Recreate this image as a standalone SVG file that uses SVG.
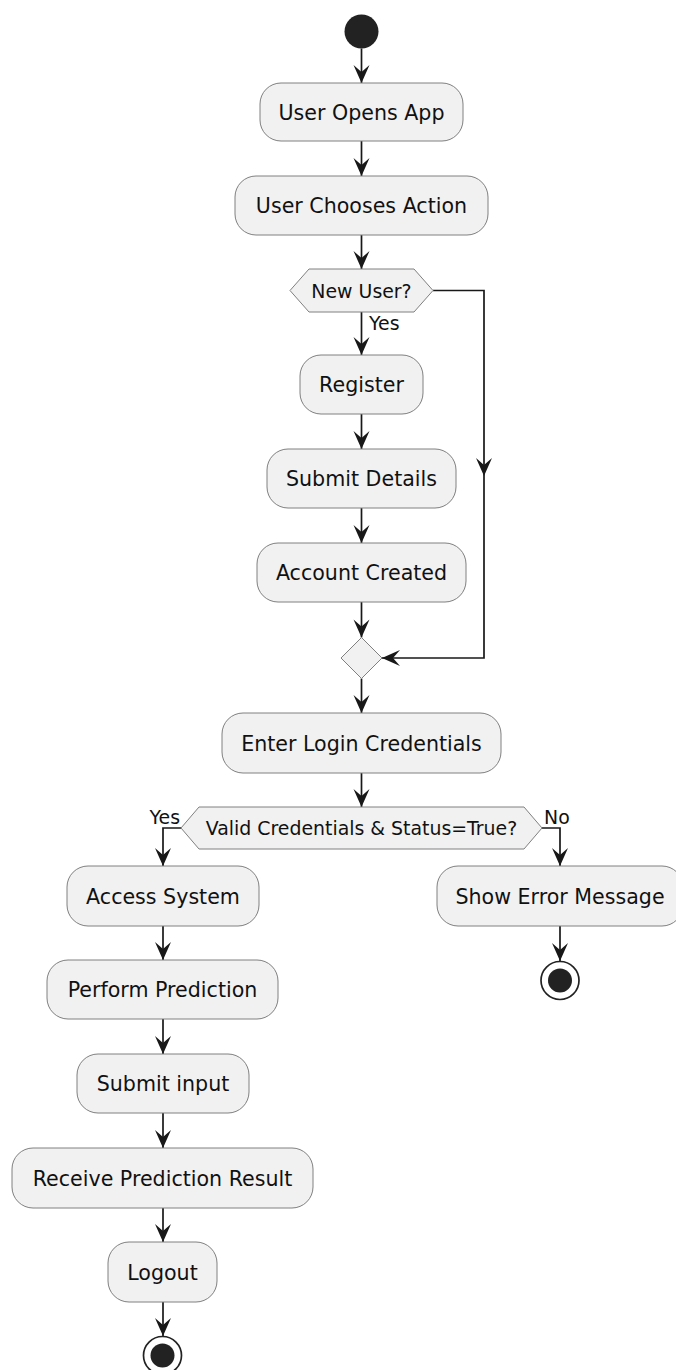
<svg xmlns="http://www.w3.org/2000/svg" width="676" height="1370" viewBox="0 0 676 1370">
<style>
.bg{fill:#ffffff}
.act{fill:#F1F1F1;stroke:#808080;stroke-width:1}
.t{font-family:"DejaVu Sans","Liberation Sans",sans-serif;font-size:20.6px;fill:#111;text-anchor:middle}
.ht{font-family:"DejaVu Sans","Liberation Sans",sans-serif;font-size:18.9px;fill:#111;text-anchor:middle}
.lbl{font-family:"DejaVu Sans","Liberation Sans",sans-serif;font-size:18.9px;fill:#111}
.c{fill:none;stroke:#181818;stroke-width:1.7}
.dot{fill:#222222}
.ring{fill:none;stroke:#222222;stroke-width:1.7}
</style>
<defs>
<marker id="ah" markerUnits="userSpaceOnUse" markerWidth="22" markerHeight="22" viewBox="-20 -11 22 22" refX="0" refY="0" orient="auto">
<path d="M-18,-8 L0,0 L-18,8 L-11,0 Z" fill="#181818"/>
</marker>
</defs>
<rect class="bg" x="0" y="0" width="676" height="1370"/>

<g id="connectors">
<path class="c" d="M361.5,48.5 V83" marker-end="url(#ah)"/>
<path class="c" d="M361.5,141 V176" marker-end="url(#ah)"/>
<path class="c" d="M361.5,235 V269" marker-end="url(#ah)"/>
<path class="c" d="M361.5,312 V355" marker-end="url(#ah)"/>
<text class="lbl" x="369" y="330">Yes</text>
<path class="c" d="M361.5,414 V449" marker-end="url(#ah)"/>
<path class="c" d="M361.5,508 V543" marker-end="url(#ah)"/>
<path class="c" d="M361.5,602 V637.5" marker-end="url(#ah)"/>
<path class="c" d="M433,290.5 H484 V476" marker-end="url(#ah)"/>
<path class="c" d="M484,476 V658 H382" marker-end="url(#ah)"/>
<path class="c" d="M361.5,678.5 V713" marker-end="url(#ah)"/>
<path class="c" d="M361.5,773 V807" marker-end="url(#ah)"/>
<path class="c" d="M181,828 H163 V866" marker-end="url(#ah)"/>
<text class="lbl" x="180" y="824" text-anchor="end">Yes</text>
<path class="c" d="M542,828 H560 V866" marker-end="url(#ah)"/>
<text class="lbl" x="544" y="824">No</text>
<path class="c" d="M560,926 V961" marker-end="url(#ah)"/>
<path class="c" d="M163,926 V960" marker-end="url(#ah)"/>
<path class="c" d="M163,1019 V1054" marker-end="url(#ah)"/>
<path class="c" d="M163,1113 V1148" marker-end="url(#ah)"/>
<path class="c" d="M163,1208 V1242" marker-end="url(#ah)"/>
<path class="c" d="M163,1302 V1336" marker-end="url(#ah)"/>
</g>

<g id="start"><circle class="dot" cx="361.5" cy="31.5" r="17"/></g>

<g id="userOpensApp">
<rect class="act" x="260" y="83" width="203" height="58" rx="21" ry="21"/>
<text class="t" x="361.5" y="119.5">User Opens App</text>
</g>
<g id="userChoosesAction">
<rect class="act" x="235" y="176" width="253" height="59" rx="21" ry="21"/>
<text class="t" x="361.5" y="213">User Chooses Action</text>
</g>
<g id="newUser">
<polygon class="act" points="290,290.5 309,269 414,269 433,290.5 414,312 309,312"/>
<text class="ht" x="361.5" y="297.5">New User?</text>
</g>
<g id="register">
<rect class="act" x="300" y="355" width="123" height="59" rx="21" ry="21"/>
<text class="t" x="361.5" y="392">Register</text>
</g>
<g id="submitDetails">
<rect class="act" x="267" y="449" width="189" height="59" rx="21" ry="21"/>
<text class="t" x="361.5" y="486">Submit Details</text>
</g>
<g id="accountCreated">
<rect class="act" x="257" y="543" width="209" height="59" rx="21" ry="21"/>
<text class="t" x="361.5" y="580">Account Created</text>
</g>
<g id="merge">
<polygon class="act" points="361.5,637.5 382,658 361.5,678.5 341,658"/>
</g>
<g id="enterLogin">
<rect class="act" x="222" y="713" width="279" height="60" rx="21" ry="21"/>
<text class="t" x="361.5" y="750.5">Enter Login Credentials</text>
</g>
<g id="validCheck">
<polygon class="act" points="181,828 199,807 524,807 542,828 524,849 199,849"/>
<text class="ht" x="361.5" y="835">Valid Credentials &amp; Status=True?</text>
</g>
<g id="accessSystem">
<rect class="act" x="67" y="866" width="192" height="60" rx="21" ry="21"/>
<text class="t" x="163" y="903.5">Access System</text>
</g>
<g id="showError">
<rect class="act" x="437" y="866" width="246" height="60" rx="21" ry="21"/>
<text class="t" x="560" y="903.5">Show Error Message</text>
</g>
<g id="endError">
<circle class="ring" cx="560" cy="980.5" r="19"/>
<circle class="dot" cx="560" cy="980.5" r="12"/>
</g>
<g id="performPrediction">
<rect class="act" x="47" y="960" width="231" height="59" rx="21" ry="21"/>
<text class="t" x="162.5" y="997">Perform Prediction</text>
</g>
<g id="submitInput">
<rect class="act" x="77" y="1054" width="172" height="59" rx="21" ry="21"/>
<text class="t" x="163" y="1091">Submit input</text>
</g>
<g id="receiveResult">
<rect class="act" x="12" y="1148" width="301" height="60" rx="21" ry="21"/>
<text class="t" x="162.5" y="1185.5">Receive Prediction Result</text>
</g>
<g id="logout">
<rect class="act" x="108" y="1242" width="109" height="60" rx="21" ry="21"/>
<text class="t" x="162.5" y="1279.5">Logout</text>
</g>
<g id="endMain">
<circle class="ring" cx="162.5" cy="1355.5" r="19"/>
<circle class="dot" cx="162.5" cy="1355.5" r="12"/>
</g>
</svg>
